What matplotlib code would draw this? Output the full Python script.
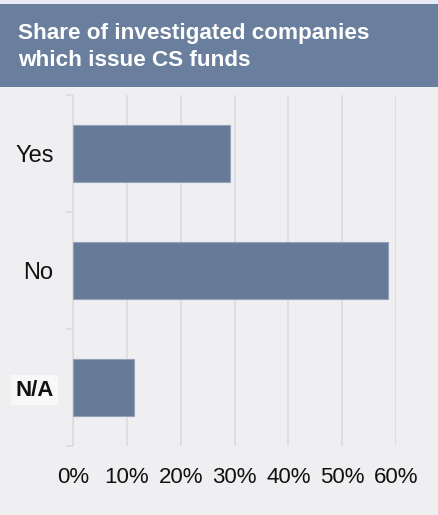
import matplotlib
matplotlib.use("Agg")
import matplotlib.pyplot as plt
from matplotlib.patches import Rectangle
from matplotlib.ticker import FixedLocator, FuncFormatter

# Survey result: share of companies issuing CS funds
categories = ["Yes", "No", "N/A"]
shares = [29.2, 58.5, 11.3]
x_ticks = [0, 10, 20, 30, 40, 50, 60]
title_lines = ["Share of investigated companies", "which issue CS funds"]

BG = "#efeff2"
HEADER = "#6a7f9d"
BAR = "#677b98"
BAR_EDGE = "#93a2ba"
GRID = "#dcdcdf"

plt.rcParams["font.family"] = ["Liberation Sans", "DejaVu Sans"]

fig = plt.figure(figsize=(4.38, 5.15), dpi=100, facecolor=BG)
W, H = 438, 515

# thin pale strip on top, then the header band
fig.patches.append(Rectangle((0, 1 - 4 / H), 1, 4 / H, transform=fig.transFigure,
                             facecolor="#e8ebf3", edgecolor="none", zorder=0))
fig.patches.append(Rectangle((0, 1 - 87 / H), 1, 83 / H, transform=fig.transFigure,
                             facecolor=HEADER, edgecolor="none", zorder=0))
fig.text(18 / W, 1 - 33 / H, title_lines[0], color="white", fontsize=16.2,
         fontweight="bold", va="center", ha="left")
fig.text(18 / W, 1 - 60 / H, title_lines[1], color="white", fontsize=16.2,
         fontweight="bold", va="center", ha="left")

ax = fig.add_axes([73 / W, 1 - 446 / H, (396 - 73) / W, (446 - 95) / H])
ax.set_facecolor(BG)

ypos = list(range(len(categories)))
ax.barh(ypos, shares, height=0.49, color=BAR, edgecolor=BAR_EDGE, linewidth=0.8, zorder=3)

ax.set_xlim(0, 60)
ax.set_ylim(len(categories) - 0.5, -0.5)

ax.xaxis.set_major_locator(FixedLocator(x_ticks))
ax.xaxis.set_major_formatter(FuncFormatter(lambda v, p: f"{v:.0f}%"))
ax.tick_params(axis="x", length=0, pad=15, labelsize=16, labelcolor="#111111")
ax.grid(axis="x", color=GRID, linewidth=1.2, zorder=0)

ax.set_yticks(ypos)
ax.set_yticklabels(categories)
ax.tick_params(axis="y", which="major", length=0, pad=14, labelsize=17, labelcolor="#111111")
ax.yaxis.set_minor_locator(FixedLocator([-0.5, 0.5, 1.5, 2.5]))
ax.tick_params(axis="y", which="minor", length=5, width=1.2, color=GRID)

labels = ax.get_yticklabels()
labels[2].set_fontweight("bold")
labels[2].set_fontsize(16)
labels[2].set_bbox(dict(facecolor="#f8f8f9", edgecolor="none", pad=3))

for side in ("top", "right", "bottom"):
    ax.spines[side].set_visible(False)
ax.spines["left"].set_color(GRID)
ax.spines["left"].set_linewidth(1.2)

fig.savefig("out.png", dpi=100, facecolor=BG)
